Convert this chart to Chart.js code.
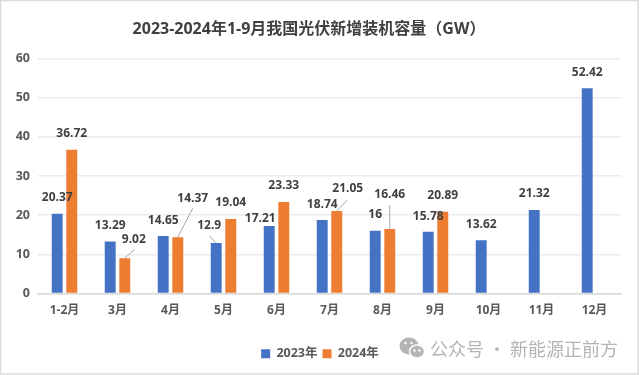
<!DOCTYPE html>
<html>
<head>
<meta charset="utf-8">
<style>
  html, body { margin: 0; padding: 0; background: #fff; }
  canvas { display: block; }
</style>
<script src="https://cdn.jsdelivr.net/npm/chart.js@4"></script>
</head>
<body>
<canvas id="chart" width="640" height="375"></canvas>
<script>
const categories = ["1-2月", "3月", "4月", "5月", "6月", "7月", "8月", "9月", "10月", "11月", "12月"];
const values2023 = [20.37, 13.29, 14.65, 12.9, 17.21, 18.74, 16, 15.78, 13.62, 21.32, 52.42];
const values2024 = [36.72, 9.02, 14.37, 19.04, 23.33, 21.05, 16.46, 20.89, null, null, null];

const FONT = "'Open Sans', 'Noto Sans CJK SC', sans-serif";

// label position relative to top of bar, most sit straight above it
const labelShift2023 = { 3: [-7, -17], 4: [-9, -7.5], 7: [0, -15] };
const labelShift2024 = { 1: [9, -19], 2: [15, -39], 4: [0, -16.5], 5: [11, -22], 6: [0, -34] };
// leader line start, also relative to top of bar
const leader2023 = { 3: [-7, -7] };
const leader2024 = { 1: [10, -9], 2: [15, -29], 5: [10.5, -11], 6: [0, -24] };

const pageFrame = {
  id: "pageFrame",
  beforeDraw(chart) {
    const { ctx, width, height } = chart;
    ctx.save();
    ctx.fillStyle = "#fff";
    ctx.fillRect(0, 0, width, height);
    ctx.strokeStyle = "#dcdcdc";
    ctx.lineWidth = 1.5;
    ctx.strokeRect(0.5, 0.5, width - 2.5, height - 1.5);
    ctx.restore();
  },
};

const barLabels = {
  id: "barLabels",
  afterDatasetsDraw(chart) {
    const { ctx } = chart;
    const shifts = [labelShift2023, labelShift2024];
    const leaders = [leader2023, leader2024];
    ctx.save();
    chart.data.datasets.forEach((ds, d) => {
      chart.getDatasetMeta(d).data.forEach((bar, i) => {
        if (ds.data[i] === null) return;
        const leader = leaders[d][i];
        if (leader) {
          ctx.beginPath();
          ctx.moveTo(bar.x + leader[0], bar.y + leader[1]);
          ctx.lineTo(bar.x, bar.y);
          ctx.strokeStyle = "#a6a6a6";
          ctx.lineWidth = 1;
          ctx.stroke();
        }
        const shift = shifts[d][i] || [0, -16];
        ctx.font = "700 12px " + FONT;
        ctx.fillStyle = "#404040";
        ctx.textAlign = "center";
        ctx.textBaseline = "middle";
        ctx.fillText(String(ds.data[i]), bar.x + shift[0], bar.y + shift[1]);
      });
    });
    ctx.restore();
  },
};

const headerAndMark = {
  id: "headerAndMark",
  afterDraw(chart) {
    const { ctx } = chart;
    ctx.save();
    ctx.textBaseline = "middle";
    ctx.textAlign = "center";
    ctx.fillStyle = "#404040";
    ctx.font = "700 16px " + FONT;
    ctx.fillText("2023-2024年1-9月我国光伏新增装机容量（GW）", 309, 29);

    // watermark
    ctx.fillStyle = "#b4b4b4";
    ctx.beginPath();
    ctx.ellipse(409, 346, 9.5, 8.5, 0, 0, Math.PI * 2);
    ctx.fill();
    ctx.strokeStyle = "#fff";
    ctx.lineWidth = 1.5;
    ctx.beginPath();
    ctx.ellipse(417, 351.5, 7.5, 6.5, 0, 0, Math.PI * 2);
    ctx.fill();
    ctx.stroke();
    ctx.fillStyle = "#fff";
    [[405.5, 343], [411.5, 343], [414.5, 350.5], [419.5, 350.5]].forEach(([ex, ey]) => {
      ctx.beginPath();
      ctx.arc(ex, ey, 1.2, 0, Math.PI * 2);
      ctx.fill();
    });
    ctx.fillStyle = "#b4b4b4";
    ctx.textAlign = "left";
    ctx.font = "18px 'Noto Sans CJK SC', sans-serif";
    ctx.fillText("公众号 · 新能源正前方", 430, 349);
    ctx.restore();
  },
};

new Chart(document.getElementById("chart"), {
  type: "bar",
  data: {
    labels: categories,
    datasets: [
      { label: "2023年", data: values2023, backgroundColor: "#4472C4" },
      { label: "2024年", data: values2024, backgroundColor: "#ED7D31" },
    ],
  },
  options: {
    responsive: false,
    animation: false,
    layout: { padding: { top: 58.5, right: 0, bottom: 5, left: 0 } },
    datasets: { bar: { categoryPercentage: 0.55, barPercentage: 0.75 } },
    scales: {
      x: {
        afterFit(axis) { axis.height = 49; },
        grid: { display: false },
        border: { color: "#d9d9d9", width: 1.5 },
        ticks: { color: "#595959", font: { family: FONT, size: 12, weight: "700" }, padding: 1.5 },
      },
      y: {
        min: 0,
        max: 60,
        afterFit(axis) { axis.width = 38; },
        grid: { color: "#ececec", lineWidth: 1.5, drawTicks: false },
        border: { display: false },
        ticks: { stepSize: 10, color: "#595959", font: { family: FONT, size: 12.5, weight: "700" }, padding: 8 },
      },
      // empty right axis, keeps the margin out of the legend centering
      rightGap: {
        position: "right",
        afterFit(axis) { axis.width = 19; },
        grid: { display: false },
        border: { display: false },
        ticks: { display: false },
      },
    },
    plugins: {
      title: { display: false },
      tooltip: { enabled: false },
      legend: {
        position: "bottom",
        labels: {
          boxWidth: 9,
          boxHeight: 9,
          padding: 5,
          color: "#595959",
          font: { family: FONT, size: 12.5, weight: "700" },
        },
      },
    },
  },
  plugins: [pageFrame, barLabels, headerAndMark],
});
</script>
</body>
</html>
